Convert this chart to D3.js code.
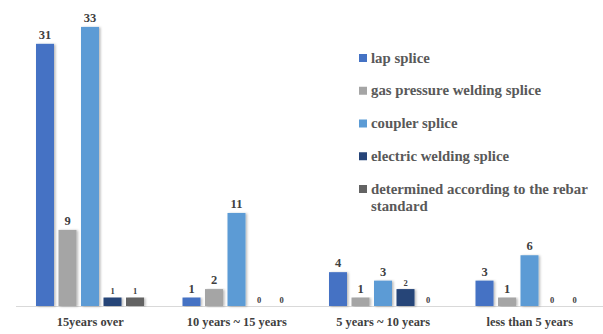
<!DOCTYPE html>
<html>
<head>
<meta charset="utf-8">
<script src="https://cdn.jsdelivr.net/npm/d3@7"></script>
<style>
  html, body { margin: 0; padding: 0; background: #fff; }
  svg { display: block; }
</style>
</head>
<body>
<svg id="chart" width="603" height="334"></svg>
<script>
// Rebar splice types by building age
const categories = ["15years over", "10 years ~ 15 years", "5 years ~ 10 years", "less than 5 years"];
const seriesNames = ["lap splice", "gas pressure welding splice", "coupler splice", "electric welding splice", "determined according to the rebar standard"];
const lapSplice = [31, 1, 4, 3];
const gasPressure = [9, 2, 1, 1];
const couplerSplice = [33, 11, 3, 6];
const electricWelding = [1, 0, 2, 0];
const rebarStandard = [1, 0, 0, 0];
const seriesColors = ["#4472C4", "#A5A5A5", "#5B9BD5", "#264478", "#636363"];

const seriesValues = [lapSplice, gasPressure, couplerSplice, electricWelding, rebarStandard];
const rows = [];
categories.forEach((c, ci) => {
  seriesValues.forEach((vals, si) => rows.push({ cat: c, si, value: vals[ci] }));
});

const svg = d3.select("#chart");
const font = "'Liberation Serif', 'Times New Roman', serif";

const defs = svg.append("defs");
const shadow = defs.append("filter").attr("id", "barShadow")
  .attr("x", "-20%").attr("y", "-5%").attr("width", "150%").attr("height", "115%");
shadow.append("feDropShadow").attr("dx", 1.5).attr("dy", 0.5)
  .attr("stdDeviation", 0.8).attr("flood-color", "#000").attr("flood-opacity", 0.28);

const baseY = 306;
const x0 = d3.scaleBand().domain(categories).range([17, 603]).padding(0);
const x1 = d3.scaleBand().domain(d3.range(seriesNames.length)).range([19, 127]).paddingInner(0.2);
const y = d3.scaleLinear().domain([0, 35]).range([baseY, 10]);

// baseline
svg.append("line")
  .attr("x1", 16).attr("x2", 603)
  .attr("y1", baseY + 0.5).attr("y2", baseY + 0.5)
  .attr("stroke", "#D9D9D9").attr("stroke-width", 1);

const g = svg.append("g");
g.selectAll("rect").data(rows).join("rect")
  .attr("x", d => x0(d.cat) + x1(d.si))
  .attr("y", d => y(d.value))
  .attr("width", x1.bandwidth())
  .attr("height", d => baseY - y(d.value))
  .attr("fill", d => seriesColors[d.si])
  .attr("filter", d => d.value > 0 ? "url(#barShadow)" : null);

// value labels
g.selectAll("text.val").data(rows).join("text")
  .attr("class", "val")
  .attr("x", d => x0(d.cat) + x1(d.si) + x1.bandwidth() / 2)
  .attr("y", d => y(d.value) - (d.si >= 3 ? 3.5 : 5))
  .attr("text-anchor", "middle")
  .attr("font-family", font)
  .attr("font-weight", "bold")
  .attr("font-size", d => d.si >= 3 ? 8.5 : 12.5)
  .attr("fill", "#404040")
  .text(d => d.value);

// category axis
const xAxis = d3.axisBottom(x0).tickSize(0).tickPadding(0);
const ax = svg.append("g").attr("transform", `translate(0,${baseY + 19.5})`).call(xAxis);
ax.select(".domain").remove();
ax.selectAll("text")
  .attr("dy", 0)
  .attr("x", 0)
  .attr("font-family", font)
  .attr("font-weight", "bold")
  .attr("font-size", 12.4)
  .attr("fill", "#404040");

// legend
const legendRows = [[seriesNames[0]], [seriesNames[1]], [seriesNames[2]], [seriesNames[3]], ["determined according to the rebar", "standard"]];
const legendY = d3.scalePoint().domain(d3.range(5)).range([58, 189]);
const lg = svg.append("g");
legendRows.forEach((lines, i) => {
  const yy = legendY(i);
  lg.append("rect")
    .attr("x", 359).attr("y", yy - 4).attr("width", 8).attr("height", 8)
    .attr("fill", seriesColors[i]);
  const t = lg.append("text")
    .attr("x", 371).attr("y", yy + 4.5)
    .attr("font-family", font)
    .attr("font-weight", "bold")
    .attr("font-size", 14.8)
    .attr("fill", "#595959");
  lines.forEach((ln, k) => {
    t.append("tspan").attr("x", 371).attr("dy", k === 0 ? 0 : 17).text(ln);
  });
});
</script>
</body>
</html>
